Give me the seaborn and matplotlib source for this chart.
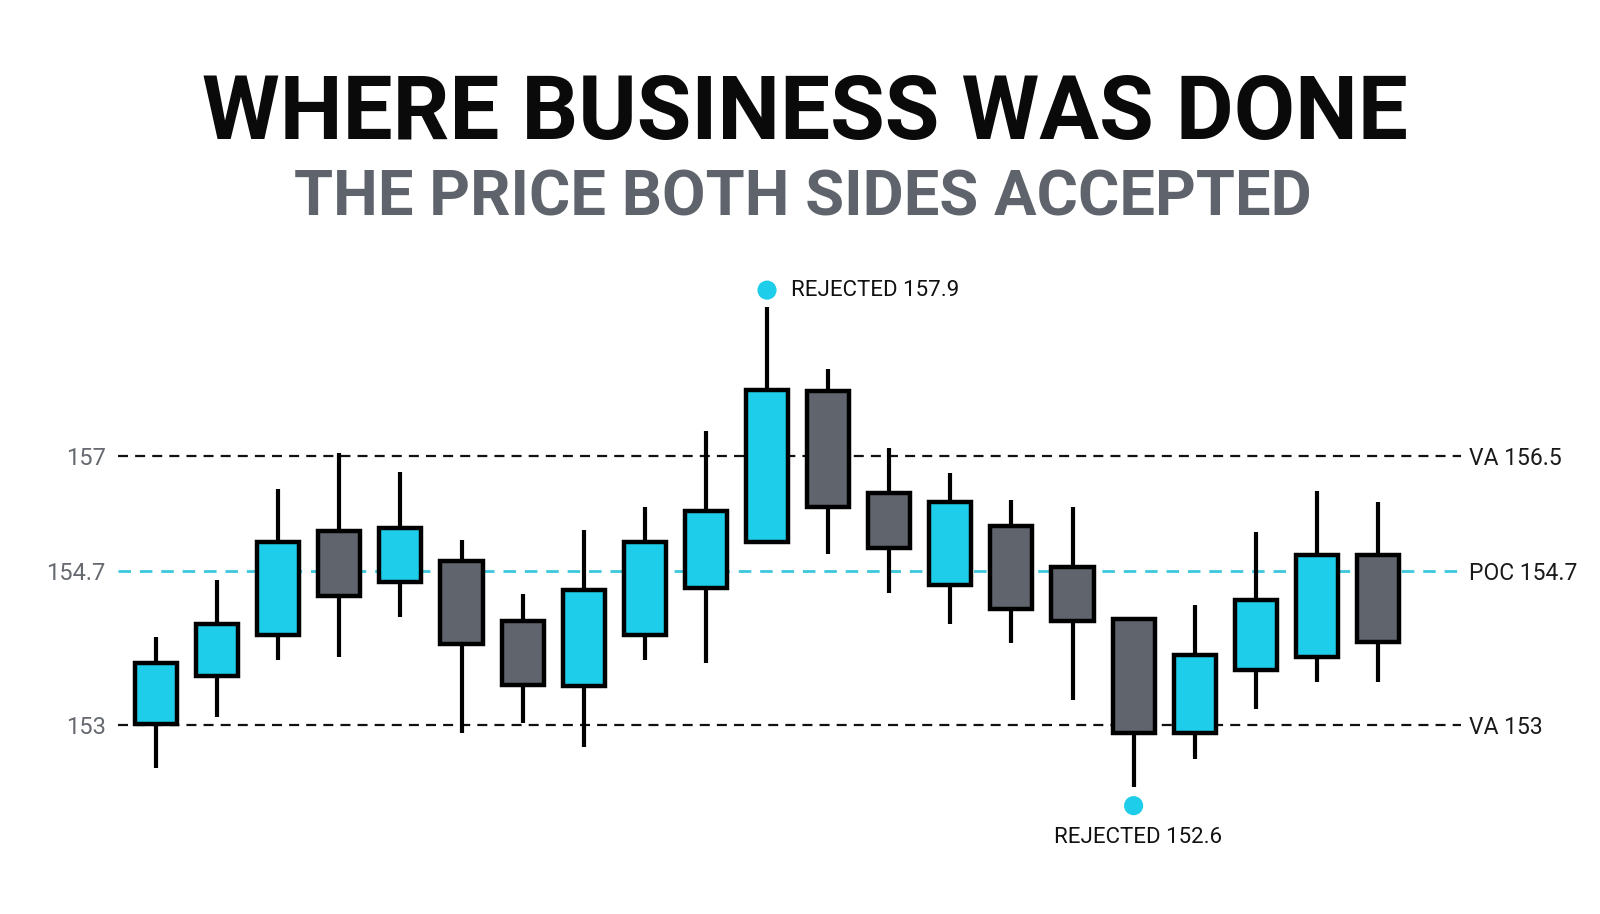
import numpy as np
import pandas as pd
import matplotlib
matplotlib.use("Agg")
import matplotlib.pyplot as plt
import seaborn as sns

# candle data (price units)
opens  = [153.01, 153.54, 153.99, 155.14, 154.58, 154.81, 154.15, 153.43, 153.99, 154.51, 155.02,
          156.69, 155.56, 154.55, 155.20, 154.74, 154.17, 152.91, 153.61, 153.75, 154.88]
closes = [153.68, 154.11, 155.02, 154.42, 155.17, 153.89, 153.44, 154.49, 155.02, 155.36, 156.70,
          155.41, 154.95, 155.46, 154.28, 154.15, 152.91, 153.77, 154.38, 154.88, 153.92]
highs  = [153.97, 154.60, 155.60, 156.00, 155.79, 155.04, 154.45, 155.15, 155.41, 156.25, 157.61,
          156.93, 156.06, 155.78, 155.48, 155.41, 154.17, 154.32, 155.13, 155.58, 155.46]
lows   = [152.53, 153.09, 153.72, 153.75, 154.19, 152.91, 153.02, 152.76, 153.72, 153.68, 155.02,
          154.89, 154.46, 154.11, 153.91, 153.28, 152.32, 152.62, 153.18, 153.47, 153.47]

# reference levels
level_values = [155.97, 154.70, 153.00]
level_left_labels = ["157", "154.7", "153"]
level_right_labels = ["VA 156.5", "POC 154.7", "VA 153"]
level_colors = ["#111111", "#3cc8dc", "#111111"]

# rejection markers
reject_idx = [10, 16]
reject_y = [157.80, 152.11]
reject_labels = ["REJECTED 157.9", "REJECTED 152.6"]

CYAN = "#1ecdea"
GRAY = "#5f646d"

df = pd.DataFrame({"open": opens, "close": closes, "high": highs, "low": lows})
df["idx"] = np.arange(len(df))
df["up"] = df["close"] > df["open"]
df["body_lo"] = df[["open", "close"]].min(axis=1)
df["body_hi"] = df[["open", "close"]].max(axis=1)

sns.set_theme(style="white")
plt.rcParams["font.family"] = ["Roboto", "DejaVu Sans"]

fig = plt.figure(figsize=(16, 9.14), dpi=100)
fig.patch.set_facecolor("white")
ax = fig.add_axes([118 / 1600, (914 - 870) / 914, (1461 - 118) / 1600, 620 / 914])
ax.set_facecolor("white")

# level lines
for val, col in zip(level_values, level_colors):
    lw = 2.0 if col != "#111111" else 1.6
    ax.axhline(val, color=col, lw=lw, ls=(0, (4.5, 3.2)), zorder=1)

# wicks
ax.vlines(df["idx"], df["low"], df["high"], color="black", lw=3, zorder=2)

# bodies
colors = [CYAN if u else GRAY for u in df["up"]]
ax.bar(df["idx"], df["body_hi"] - df["body_lo"], bottom=df["body_lo"], width=0.69,
       color=colors, edgecolor="black", linewidth=3.2, zorder=3)

# rejection dots
dots = pd.DataFrame({"x": reject_idx, "y": reject_y})
sns.scatterplot(data=dots, x="x", y="y", ax=ax, s=190, color=CYAN, edgecolor="none", zorder=4)
ax.annotate(reject_labels[0], (reject_idx[0], reject_y[0]), xytext=(17, 0), textcoords="offset points",
            ha="left", va="center", fontsize=16, color="#111111")
ax.annotate(reject_labels[1], (reject_idx[1], reject_y[1]), xytext=(3, -23), textcoords="offset points",
            ha="center", va="center", fontsize=16, color="#111111")

ax.set_xlim(-0.622, 21.358)
ax.set_ylim(151.40, 158.243)
ax.set_xticks([])
ax.set_yticks(level_values)
ax.set_yticklabels(level_left_labels, fontsize=17, color="#666a70")
ax.tick_params(axis="y", length=0, pad=9)
ax.set_xlabel("")
ax.set_ylabel("")
for s in ax.spines.values():
    s.set_visible(False)

ax2 = ax.twinx()
ax2.set_ylim(ax.get_ylim())
ax2.set_yticks(level_values)
ax2.set_yticklabels(level_right_labels, fontsize=16.5, color="#1a1a1a")
ax2.tick_params(axis="y", length=0, pad=6)
for s in ax2.spines.values():
    s.set_visible(False)

fig.text(0.503, 1 - 139 / 914, "WHERE BUSINESS WAS DONE", ha="center", va="baseline",
         fontsize=64, fontweight="bold", color="#0a0a0a")
fig.text(0.502, 1 - 216 / 914, "THE PRICE BOTH SIDES ACCEPTED", ha="center", va="baseline",
         fontsize=45.5, fontweight="bold", color="#5f636b")

plt.savefig("out.png", dpi=100, facecolor="white")
plt.close()
